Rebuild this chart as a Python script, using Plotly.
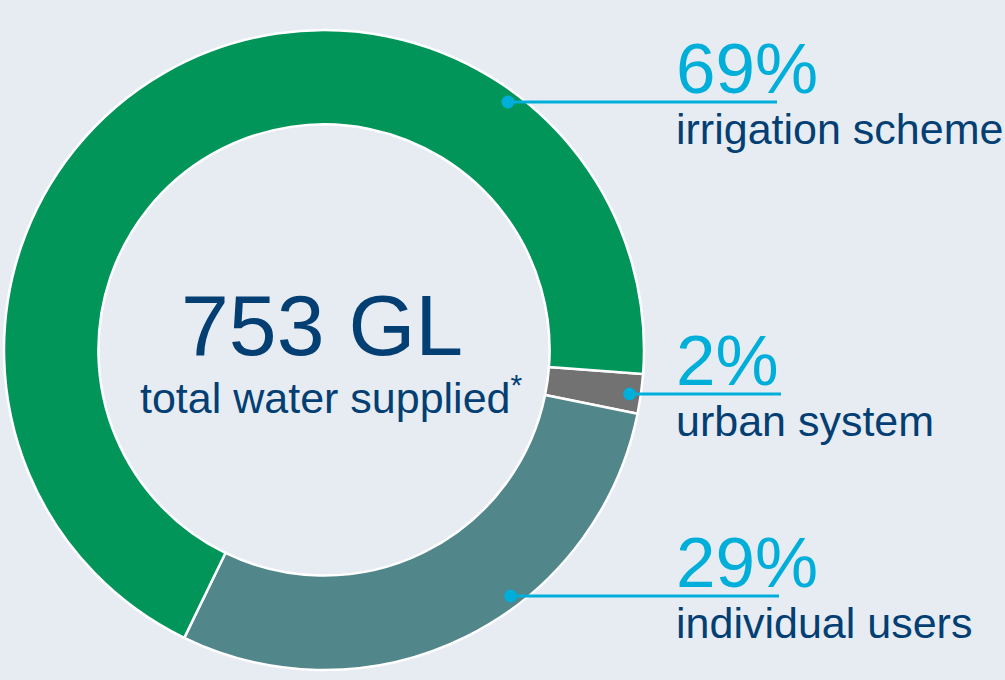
import math
import plotly.graph_objects as go

# ---- data ----
categories = ["urban system", "individual users", "irrigation scheme"]
shares = [2, 29, 69]            # percent of total water supplied
share_labels = ["2%", "29%", "69%"]
total_text = "753 GL"
total_caption = "total water supplied<sup>*</sup>"

# ---- styles ----
slice_colors = ["#717271", "#51868A", "#02955A"]
cyan = "#00AEDA"
navy = "#033F73"
bg = "#E7ECF3"
FONT = "Liberation Sans, Arial, Helvetica, sans-serif"

W, H = 1005, 680
cx, cy, R = 324, 350, 320      # donut geometry in pixels
dot_r_frac = 0.965             # dot placement radius as fraction of R
PCT_SIZE, LAB_SIZE = 71, 43

fig = go.Figure()
fig.add_trace(go.Pie(
    labels=categories,
    values=shares,
    sort=False,
    direction="clockwise",
    rotation=94.3,
    hole=0.705,
    marker=dict(colors=slice_colors, line=dict(color="white", width=2.5)),
    textinfo="none",
    hoverinfo="label+percent",
    showlegend=False,
    domain=dict(x=[(cx - R) / W, (cx + R) / W], y=[(H - cy - R) / H, (H - cy + R) / H]),
))

# invisible pixel axes for annotations / leader lines
fig.add_trace(go.Scatter(x=[0, W], y=[0, H], mode="markers",
                         marker=dict(opacity=0), hoverinfo="skip", showlegend=False))

# label block layout: (line y, line end x)
label_layout = {
    "irrigation scheme": (102, 777),
    "urban system": (394, 781),
    "individual users": (596, 779),
}
text_left = 674
shapes = []
annotations = []
for cat, lab in zip(categories, share_labels):
    ly, lx_end = label_layout[cat]
    dy = ly - cy
    dx = math.sqrt((R * dot_r_frac) ** 2 - dy ** 2)
    dot_x = cx + dx
    shapes.append(dict(type="line", xref="x", yref="y", x0=dot_x, x1=lx_end, y0=ly, y1=ly,
                       line=dict(color=cyan, width=3)))
    shapes.append(dict(type="circle", xref="x", yref="y", x0=dot_x - 6.5, x1=dot_x + 6.5,
                       y0=ly - 6.5, y1=ly + 6.5, fillcolor=cyan, line=dict(width=0)))
    annotations.append(dict(x=text_left, y=ly - 9 - 0.3465 * PCT_SIZE, xref="x", yref="y",
                            text=lab, showarrow=False, xanchor="left", yanchor="middle",
                            font=dict(family=FONT, size=PCT_SIZE, color=cyan)))
    annotations.append(dict(x=text_left, y=ly + 42 - 0.3465 * LAB_SIZE, xref="x", yref="y",
                            text=cat, showarrow=False, xanchor="left", yanchor="middle",
                            font=dict(family=FONT, size=LAB_SIZE, color=navy)))

annotations.append(dict(x=322, y=355 - 0.3465 * 86, xref="x", yref="y", text=total_text,
                        showarrow=False, xanchor="center", yanchor="middle",
                        font=dict(family=FONT, size=86, color=navy)))
annotations.append(dict(x=331, y=410 - 0.3465 * 43, xref="x", yref="y", text=total_caption,
                        showarrow=False, xanchor="center", yanchor="middle",
                        font=dict(family=FONT, size=43, color=navy)))

fig.update_layout(
    width=W, height=H,
    margin=dict(l=0, r=0, t=0, b=0),
    paper_bgcolor=bg, plot_bgcolor=bg,
    xaxis=dict(range=[0, W], visible=False, fixedrange=True),
    yaxis=dict(range=[H, 0], visible=False, fixedrange=True),
    shapes=shapes,
    annotations=annotations,
    font=dict(family=FONT),
)

fig.write_html("out.html", config={"displayModeBar": False},
               post_script="document.body.style.margin='0';document.body.style.overflow='hidden';")
